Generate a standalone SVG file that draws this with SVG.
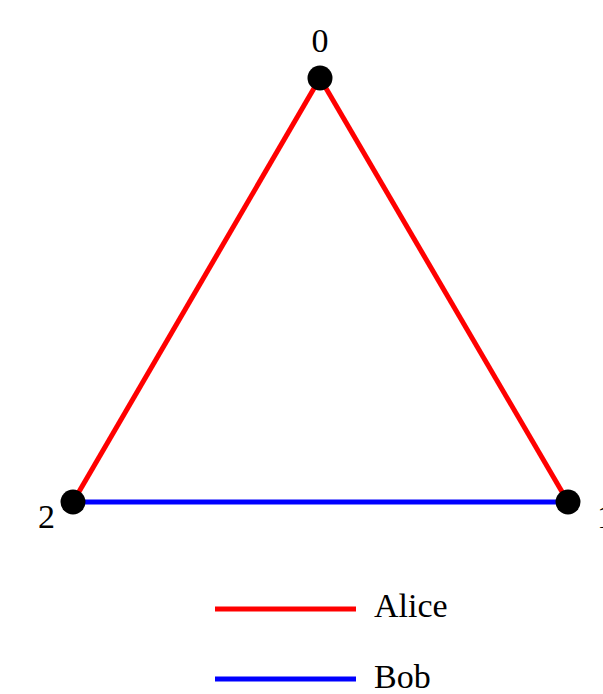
<svg xmlns="http://www.w3.org/2000/svg" width="603" height="694" viewBox="0 0 603 694">
<style>
.lbl{font-family:"Liberation Serif","Times New Roman",serif;font-size:34px;fill:#000}
.alice{stroke:#ff0000;stroke-width:5;fill:none}
.bob{stroke:#0000ff;stroke-width:5;fill:none}
.node{fill:#000}
</style>
<rect width="603" height="694" fill="#fff"/>
<g id="edges">
<line class="alice" x1="320" y1="78" x2="568" y2="502"/>
<line class="alice" x1="320" y1="78" x2="73" y2="502"/>
<line class="bob" x1="73" y1="502" x2="568" y2="502"/>
</g>
<g id="node0"><circle class="node" cx="320" cy="78" r="12.5"/><text class="lbl" x="320" y="52" text-anchor="middle">0</text></g>
<g id="node1"><circle class="node" cx="568" cy="502" r="12.5"/><text class="lbl" x="597" y="528">1</text></g>
<g id="node2"><circle class="node" cx="73" cy="502" r="12.5"/><text class="lbl" x="55" y="528" text-anchor="end">2</text></g>
<g id="legend">
<line class="alice" x1="215" y1="609" x2="356" y2="609"/>
<text class="lbl" x="374" y="617">Alice</text>
<line class="bob" x1="215" y1="679" x2="356" y2="679"/>
<text class="lbl" x="374" y="688">Bob</text>
</g>
</svg>
